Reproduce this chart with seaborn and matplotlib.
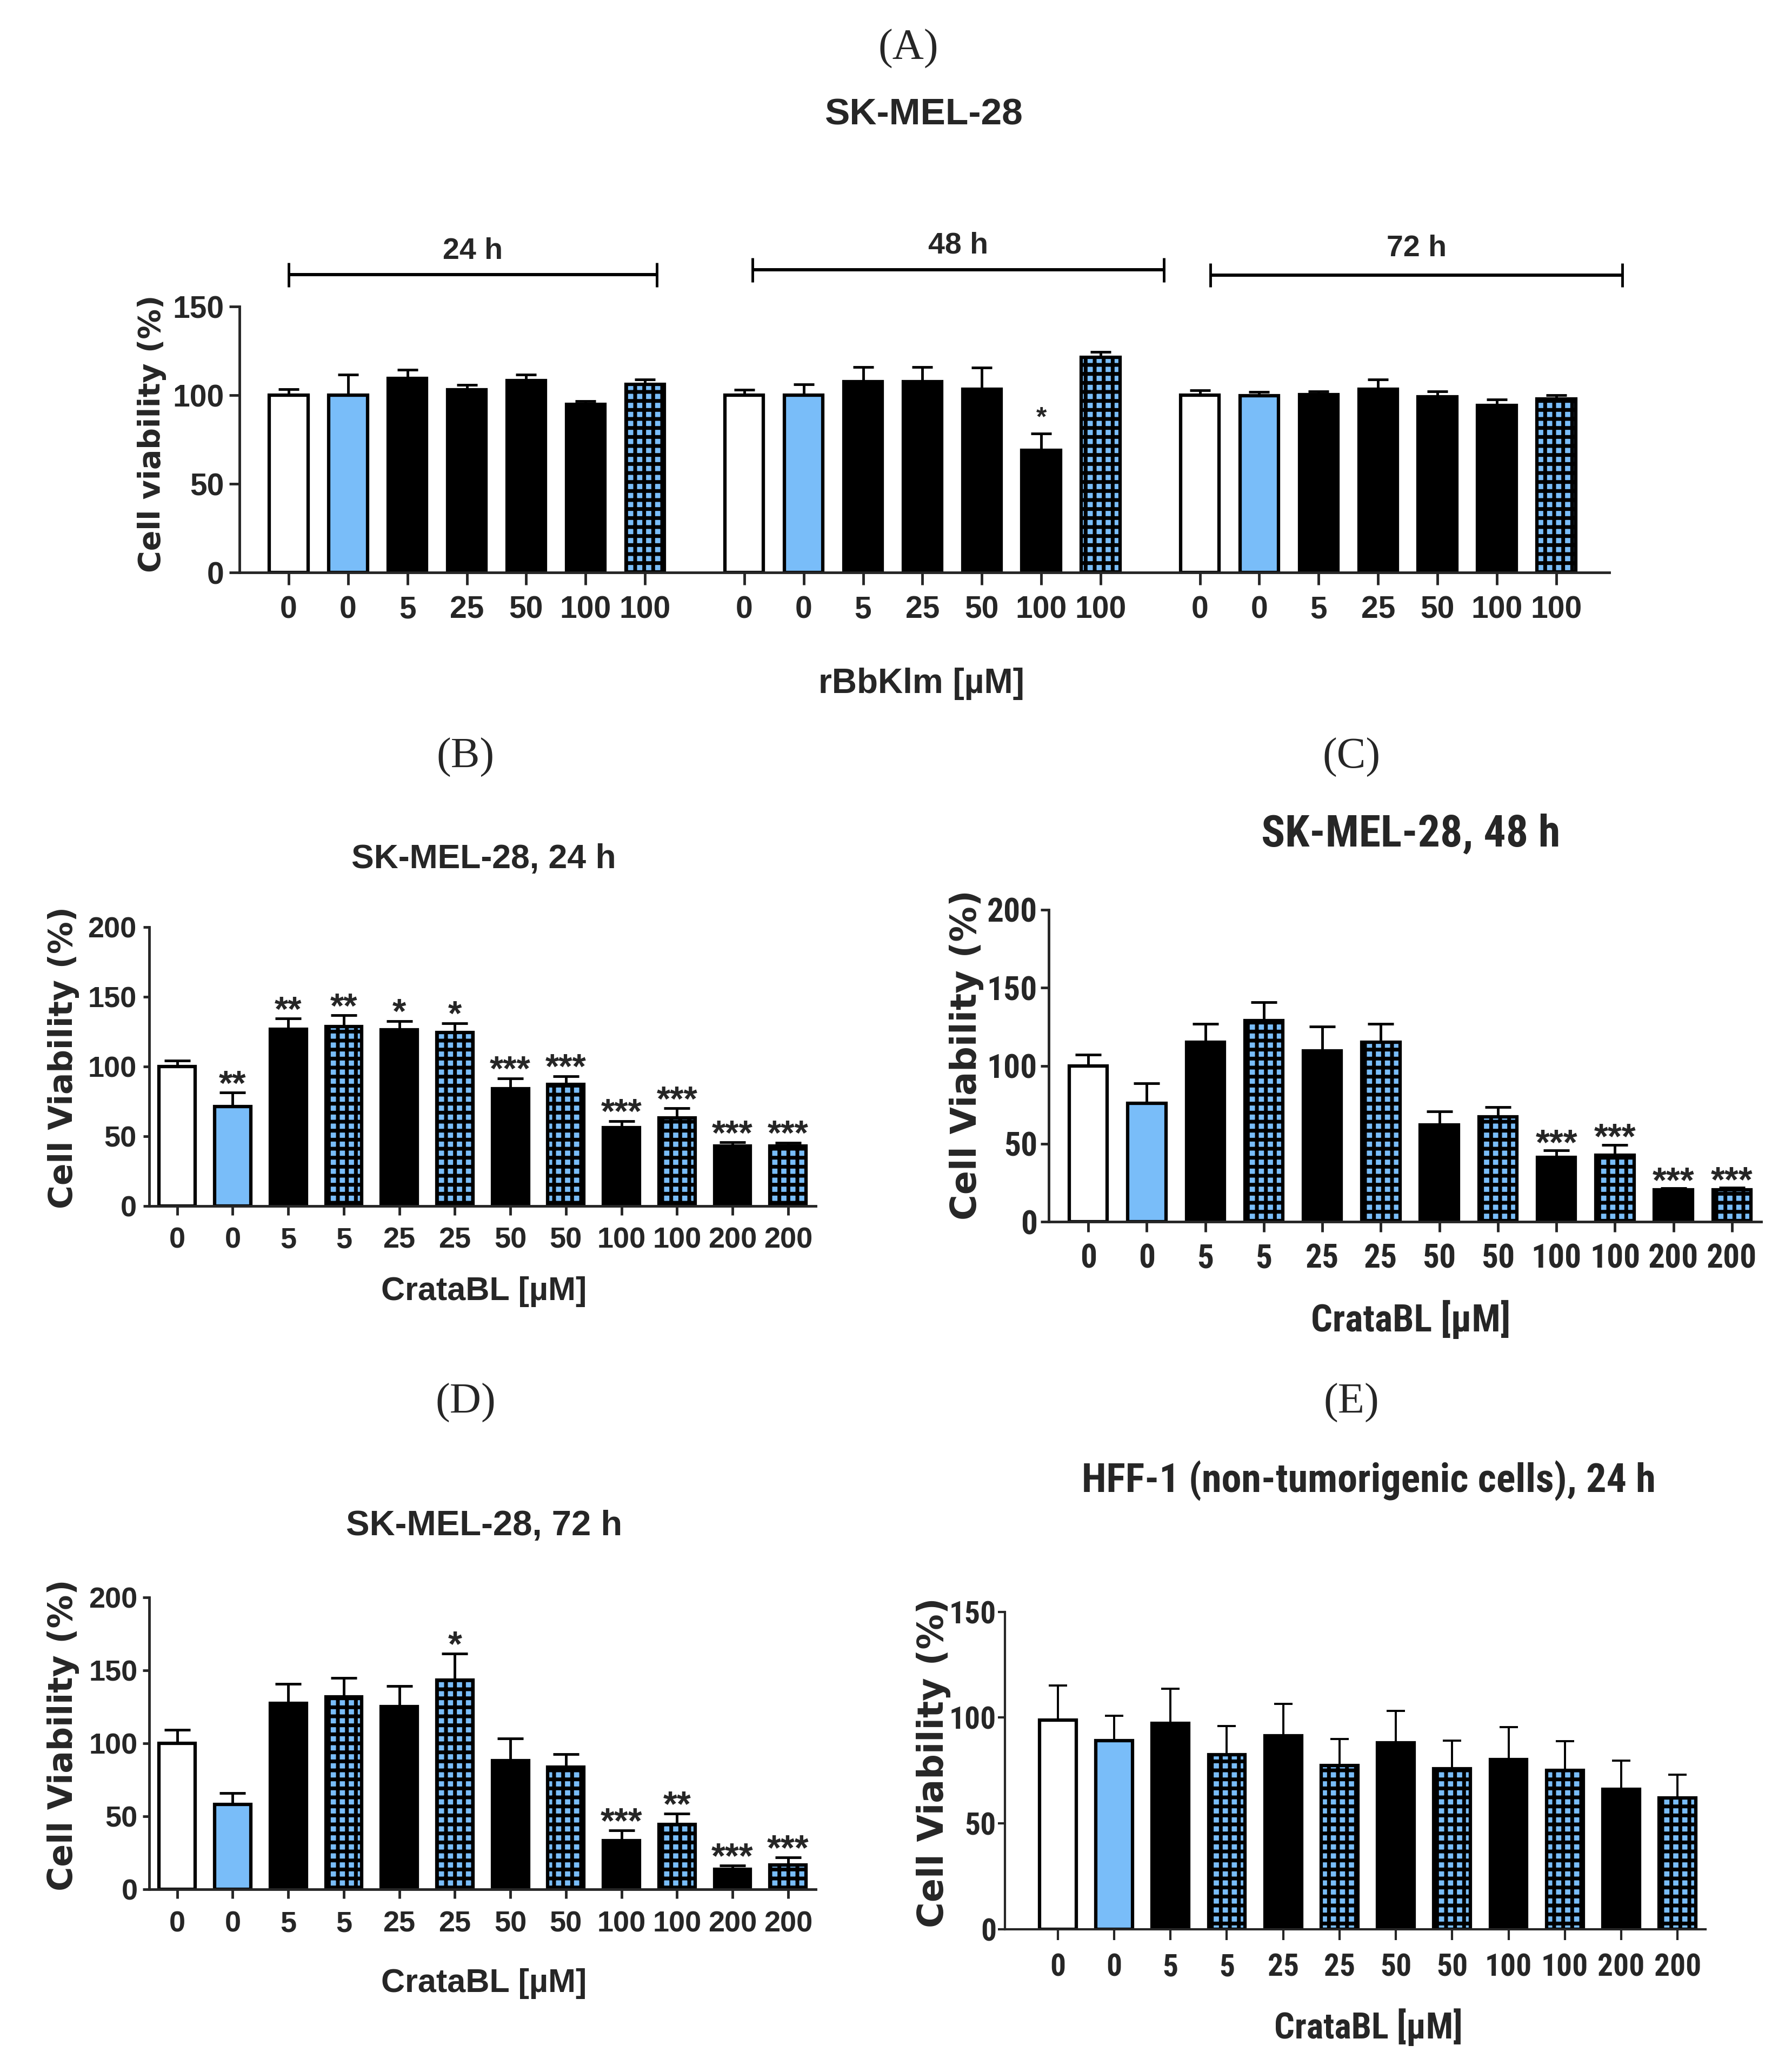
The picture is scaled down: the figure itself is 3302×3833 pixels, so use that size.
import numpy as np
import pandas as pd
import seaborn as sns
import matplotlib.pyplot as plt
from matplotlib import font_manager

sns.set_style("ticks")
plt.rcParams["font.family"] = ["Liberation Sans", "DejaVu Sans"]
plt.rcParams["hatch.linewidth"] = 5.0
plt.rcParams["hatch.color"] = "black"

# panels C and E use a narrower face; fall back to smaller Liberation Sans
names = {f.name for f in font_manager.fontManager.ttflist}
narrow_faces = {"Liberation Sans Narrow": 1.0, "Roboto Condensed": 0.92,
                "Open Sans Condensed": 0.95}
NARROW, NS = "Liberation Sans", 0.8
for face, scale in narrow_faces.items():
    if face in names:
        NARROW, NS = face, scale
        break

BLUE = "#79BDF9"
PALETTE = {"ctrl": "white", "veh": BLUE, "drug": "black", "combo": BLUE}

# ---- data ----
# (A) rBbKlm on SK-MEL-28, three incubation times
A_groups = ["24 h", "48 h", "72 h"]
A_ticks = ["0", "0", "5", "25", "50", "100", "100"]
A_kinds = ["ctrl", "veh", "drug", "drug", "drug", "drug", "combo"]
A_24 = [100, 100, 109.7, 103.1, 108.3, 94.8, 106.1]
A_24_sd = [3.6, 11.7, 4.8, 2.8, 3.4, 2.0, 3.0]
A_48 = [100, 100, 107.8, 107.8, 103.6, 68.9, 121.4]
A_48_sd = [3.1, 6.3, 8.1, 8.1, 12.0, 9.5, 3.0]
A_72 = [100, 99.7, 100.5, 103.6, 99.2, 94.4, 98.1]
A_72_sd = [2.8, 2.3, 1.8, 5.5, 3.0, 3.3, 1.9]
A_stars = ["", "", "", "", "", "", "",
           "", "", "", "", "", "*", "",
           "", "", "", "", "", "", ""]

# (B)-(E) CrataBL
doses = ["0", "0", "5", "5", "25", "25", "50", "50", "100", "100", "200", "200"]
kinds = ["ctrl", "veh", "drug", "combo", "drug", "combo",
         "drug", "combo", "drug", "combo", "drug", "combo"]

B_vals = [100, 71.1, 126.8, 128.7, 126.1, 124.4, 84.0, 87.3, 56.1, 63.2, 43.0, 43.0]
B_sd = [4.1, 10.1, 7.5, 7.9, 6.5, 6.6, 7.5, 5.6, 4.7, 6.7, 2.6, 2.4]
B_stars = ["", "**", "**", "**", "*", "*", "***", "***", "***", "***", "***", "***"]

C_vals = [100, 75.9, 115.2, 128.8, 109.6, 115.0, 62.0, 67.2, 41.2, 42.6, 20.4, 20.4]
C_sd = [7.0, 12.9, 11.8, 11.9, 15.7, 12.0, 8.7, 6.3, 4.5, 6.8, 1.1, 1.6]
C_stars = ["", "", "", "", "", "", "", "", "***", "***", "***", "***"]

D_vals = [100, 58.4, 127.3, 131.8, 125.2, 143.3, 88.2, 83.8, 33.6, 44.7, 13.9, 16.9]
D_sd = [9.4, 7.7, 13.4, 13.2, 13.9, 18.1, 15.3, 8.7, 6.9, 7.3, 2.6, 5.0]
D_stars = ["", "", "", "", "", "*", "", "", "***", "**", "***", "***"]

E_vals = [98.8, 89.1, 97.3, 82.6, 91.5, 77.5, 88.0, 75.8, 80.2, 75.0, 66.1, 62.0]
E_sd = [16.3, 11.7, 16.3, 13.5, 14.9, 12.4, 15.3, 13.3, 15.3, 13.8, 13.6, 11.1]
E_stars = [""] * 12

# ---- layout helpers (reference grid 1350 x 1567) ----
W, H = 1350.0, 1567.0


def fx(x):
    return x / W


def fy(y):
    return 1 - y / H


def box(x0, y0, x1, y1):
    return [fx(x0), fy(y1), (x1 - x0) / W, (y1 - y0) / H]


def draw_bars(ax, pos, vals, sd, kind, ticklabels, stars, st):
    df = pd.DataFrame({"pos": pos, "viability": vals, "kind": kind})
    sns.barplot(data=df, x="pos", y="viability", hue="kind", palette=PALETTE,
                native_scale=True, width=0.65, dodge=False, saturation=1,
                errorbar=None, legend=False, edgecolor="black",
                linewidth=st["bar_lw"], ax=ax)
    pos_arr = np.asarray(pos)
    for p in ax.patches:
        i = int(np.argmin(np.abs(pos_arr - (p.get_x() + p.get_width() / 2))))
        if kind[i] == "combo":
            p.set_hatch("+")
    ax.errorbar(pos, vals, yerr=[np.zeros(len(vals)), sd], fmt="none",
                ecolor="black", elinewidth=st["err_lw"], capsize=st["cap"],
                capthick=st["err_lw"], zorder=3)
    for x, v, e, s in zip(pos, vals, sd, stars):
        if s:
            ax.annotate(s, (x, v + e), xytext=(0, st["star_dy"]),
                        textcoords="offset points", ha="center", va="baseline",
                        fontsize=st["star_fs"], fontweight="bold",
                        family="Liberation Sans", zorder=4)
    ax.set_xlim(*st["xlim"])
    ax.set_ylim(0, st["ymax"])
    ax.set_xticks(pos, ticklabels, fontsize=st["tick_fs"], fontweight="bold",
                  family=st["font"])
    yt = list(range(0, st["ymax"] + 1, 50))
    ax.set_yticks(yt, [str(t) for t in yt], fontsize=st["tick_fs"],
                  fontweight="bold", family=st["font"])
    sns.despine(ax=ax)
    for sp in ("left", "bottom"):
        ax.spines[sp].set_linewidth(st["spine_lw"])
    ax.tick_params(axis="x", length=st["xtick_len"], width=st["spine_lw"],
                   pad=st["xpad"], direction="out")
    ax.tick_params(axis="y", length=st["ytick_len"], width=st["spine_lw"],
                   pad=st["ypad"], direction="out")
    ax.set_xlabel(st["xlabel"], fontsize=st["xlabel_fs"], fontweight="bold",
                  family=st["font"], va="center", ha="center")
    ax.xaxis.set_label_coords(fx(st["xlabel_xy"][0]), fy(st["xlabel_xy"][1]),
                              transform=fig.transFigure)
    ax.set_ylabel(st["ylabel"], fontsize=st["ylabel_fs"], fontweight="bold",
                  family="DejaVu Sans", va="center", ha="center")
    ax.yaxis.set_label_coords(fx(st["ylabel_xy"][0]), fy(st["ylabel_xy"][1]),
                              transform=fig.transFigure)


fig = plt.figure(figsize=(33.02, 38.33), dpi=100)

base = dict(bar_lw=4.5, err_lw=3.5, spine_lw=3.5, font="Liberation Sans",
            ymax=200, xlim=(-0.5, 11.5))

# ---- (A) ----
axA = fig.add_axes(box(181, 232, 1217, 433))
offsets = [0.0, 7.67, 15.34]
A_pos = [o + i for o in offsets for i in range(7)]
A_vals = A_24 + A_48 + A_72
A_sd = A_24_sd + A_48_sd + A_72_sd
stA = dict(base, ymax=150, xlim=(-0.83, 22.23), cap=14, star_fs=36, star_dy=11,
           tick_fs=41, xtick_len=16.5, ytick_len=14, xpad=14, ypad=6.5,
           xlabel="rBbKlm [µM]", xlabel_fs=46, xlabel_xy=(697, 517),
           ylabel="Cell viability (%)", ylabel_fs=40, ylabel_xy=(115, 328))
draw_bars(axA, A_pos, A_vals, A_sd, A_kinds * 3, A_ticks * 3, A_stars, stA)

bracket_spans = [(0.0, 6.2, 168.0, 181.4), (7.81, 14.73, 170.8, 184.5),
                 (15.52, 22.45, 167.8, 182.9)]
for name, (x0, x1, yb, yl) in zip(A_groups, bracket_spans):
    axA.plot([x0, x1], [yb, yb], color="black", lw=4.3, clip_on=False,
             solid_capstyle="butt")
    for xe in (x0, x1):
        axA.plot([xe, xe], [yb - 6.8, yb + 6.8], color="black", lw=3.5,
                 clip_on=False, solid_capstyle="butt")
    axA.text((x0 + x1) / 2, yl, name, ha="center", va="center", fontsize=40,
             fontweight="bold", clip_on=False)

fig.text(fx(687), fy(37), "(A)", ha="center", va="center", fontsize=58,
         family="Liberation Serif")
fig.text(fx(699), fy(87), "SK-MEL-28", ha="center", va="center", fontsize=50,
         fontweight="bold")

pos12 = list(range(12))

# ---- (B) ----
axB = fig.add_axes(box(113, 701, 617, 912))
stB = dict(base, cap=17, star_fs=47, star_dy=-3, tick_fs=39, xtick_len=12,
           ytick_len=8, xpad=16, ypad=9, xlabel="CrataBL [µM]", xlabel_fs=44,
           xlabel_xy=(366, 977), ylabel="Cell Viability (%)", ylabel_fs=43,
           ylabel_xy=(48, 800))
draw_bars(axB, pos12, B_vals, B_sd, kinds, doses, B_stars, stB)
fig.text(fx(352), fy(573), "(B)", ha="center", va="center", fontsize=58,
         family="Liberation Serif")
fig.text(fx(366), fy(650), "SK-MEL-28, 24 h", ha="center", va="center",
         fontsize=45, fontweight="bold")

# ---- (C) ----
axC = fig.add_axes(box(793, 688, 1332, 924))
stC = dict(base, xlim=(-0.68, 11.5), cap=17, star_fs=48, star_dy=-5,
           font=NARROW, tick_fs=48 * NS, xtick_len=13.5, ytick_len=11,
           xpad=15, ypad=4, xlabel="CrataBL [µM]", xlabel_fs=55 * NS,
           xlabel_xy=(1067, 998), ylabel="Cell Viability (%)", ylabel_fs=47,
           ylabel_xy=(731, 798))
draw_bars(axC, pos12, C_vals, C_sd, kinds, doses, C_stars, stC)
fig.text(fx(1022), fy(573), "(C)", ha="center", va="center", fontsize=58,
         family="Liberation Serif")
fig.text(fx(1067), fy(631), "SK-MEL-28, 48 h", ha="center", va="center",
         fontsize=64 * NS, fontweight="bold", family=NARROW)

# ---- (D) ----
axD = fig.add_axes(box(113, 1208, 617, 1429))
stD = dict(base, cap=17, star_fs=48, star_dy=-3, tick_fs=39, xtick_len=12,
           ytick_len=8.5, xpad=16, ypad=7, xlabel="CrataBL [µM]", xlabel_fs=44,
           xlabel_xy=(366, 1500), ylabel="Cell Viability (%)", ylabel_fs=44.5,
           ylabel_xy=(48, 1312))
draw_bars(axD, pos12, D_vals, D_sd, kinds, doses, D_stars, stD)
fig.text(fx(352), fy(1061), "(D)", ha="center", va="center", fontsize=58,
         family="Liberation Serif")
fig.text(fx(366), fy(1154), "SK-MEL-28, 72 h", ha="center", va="center",
         fontsize=47, fontweight="bold")

# ---- (E) ----
axE = fig.add_axes(box(760, 1219, 1290, 1459))
stE = dict(base, ymax=150, xlim=(-0.94, 11.5), err_lw=2.8, spine_lw=3.0,
           cap=12, star_fs=42, star_dy=-8, font=NARROW, tick_fs=45 * NS,
           xtick_len=14.5, ytick_len=9.5, xpad=17, ypad=2,
           xlabel="CrataBL [µM]", xlabel_fs=52 * NS, xlabel_xy=(1035, 1533),
           ylabel="Cell Viability (%)", ylabel_fs=47, ylabel_xy=(706, 1333))
draw_bars(axE, pos12, E_vals, E_sd, kinds, doses, E_stars, stE)
fig.text(fx(1022), fy(1061), "(E)", ha="center", va="center", fontsize=58,
         family="Liberation Serif")
fig.text(fx(1035), fy(1120), "HFF-1 (non-tumorigenic cells), 24 h",
         ha="center", va="center", fontsize=58 * NS, fontweight="bold",
         family=NARROW)

fig.savefig("out.png", dpi=100, facecolor="white")
